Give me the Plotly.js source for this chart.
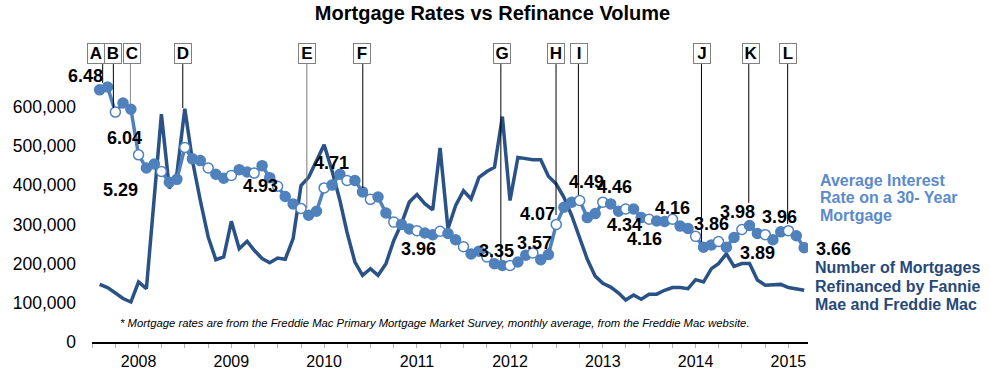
<!DOCTYPE html>
<html>
<head>
<meta charset="utf-8">
<script src="https://cdn.plot.ly/plotly-3.0.1.min.js"></script>
<style>html,body{margin:0;padding:0;background:#fff;}#chart{width:989px;height:369px;}</style>
</head>
<body>
<div id="chart"></div>
<script>
// ---- DATA ----
const months = [
 '2008-07','2008-08','2008-09','2008-10','2008-11','2008-12',
 '2009-01','2009-02','2009-03','2009-04','2009-05','2009-06','2009-07','2009-08','2009-09','2009-10','2009-11','2009-12',
 '2010-01','2010-02','2010-03','2010-04','2010-05','2010-06','2010-07','2010-08','2010-09','2010-10','2010-11','2010-12',
 '2011-01','2011-02','2011-03','2011-04','2011-05','2011-06','2011-07','2011-08','2011-09','2011-10','2011-11','2011-12',
 '2012-01','2012-02','2012-03','2012-04','2012-05','2012-06','2012-07','2012-08','2012-09','2012-10','2012-11','2012-12',
 '2013-01','2013-02','2013-03','2013-04','2013-05','2013-06','2013-07','2013-08','2013-09','2013-10','2013-11','2013-12',
 '2014-01','2014-02','2014-03','2014-04','2014-05','2014-06','2014-07','2014-08','2014-09','2014-10','2014-11','2014-12',
 '2015-01','2015-02','2015-03','2015-04','2015-05','2015-06','2015-07','2015-08','2015-09','2015-10','2015-11','2015-12',
 '2016-01','2016-02'];

const rates = [
 6.43,6.48,6.04,6.20,6.09,5.29,
 5.06,5.13,5.00,4.81,4.86,5.42,5.22,5.19,5.06,4.95,4.88,4.93,
 5.03,4.99,4.97,5.10,4.89,4.74,4.56,4.43,4.35,4.23,4.30,4.71,
 4.76,4.95,4.84,4.84,4.64,4.51,4.55,4.27,4.11,4.07,3.99,3.96,
 3.92,3.89,3.95,3.91,3.80,3.68,3.55,3.60,3.50,3.38,3.35,3.35,
 3.41,3.53,3.57,3.45,3.54,4.07,4.37,4.46,4.49,4.19,4.26,4.46,
 4.43,4.30,4.34,4.34,4.19,4.16,4.13,4.12,4.16,4.04,4.00,3.86,
 3.67,3.71,3.77,3.67,3.84,3.98,4.05,3.91,3.89,3.80,3.94,3.96,
 3.87,3.66];

const refinances = [
 147000,139000,125000,111000,102000,153000,
 136000,370000,581000,392000,430000,595000,463000,361000,268000,210000,217000,308000,
 238000,257000,234000,213000,202000,214000,211000,264000,399000,420000,463000,503000,
 437000,361000,280000,204000,170000,187000,170000,200000,259000,302000,357000,376000,
 353000,337000,495000,289000,348000,386000,365000,420000,435000,446000,575000,361000,
 471000,467000,465000,465000,423000,403000,369000,322000,265000,211000,168000,150000,
 140000,125000,107000,120000,109000,122000,122000,132000,139000,139000,136000,159000,
 153000,187000,200000,225000,193000,200000,200000,158000,145000,145000,147000,139000,
 135000,132000];

const yTicks = [0,100000,200000,300000,400000,500000,600000];
const yearTickDates = ['2008-12-01','2009-12-01','2010-12-01','2011-12-01','2012-12-01','2013-12-01','2014-12-01','2015-12-01'];
const yearTickText = ['2008','2009','2010','2011','2012','2013','2014','2015'];

// labelled rate points (month of the point)
const labelMonths = ['2008-08','2008-09','2008-12','2009-12','2010-12','2011-12','2012-12','2013-03','2013-06','2013-09','2013-12','2014-03','2014-09','2014-06','2014-12','2015-06','2015-09','2015-12','2016-02'];

// event markers
const eventLabels = ['A','B','C','D','E','F','G','H','I','J','K','L'];
const eventDates = ['2008-07-13','2008-08-24','2008-10-30','2009-05-24','2010-09-24','2011-05-02','2012-10-26','2013-05-31','2013-08-27','2014-12-24','2015-06-28','2015-11-28'];
const eventLineEnds = [661000,597000,605000,597000,342000,393000,209000,324000,375000,255000,355000,301000];

const title = 'Mortgage Rates vs Refinance Volume';
const rateLegend = ['Average Interest','Rate on a 30- Year','Mortgage'];
const refiLegend = ['Number of Mortgages','Refinanced by Fannie','Mae and Freddie Mac'];
const footnote = '* Mortgage rates are from the Freddie Mac Primary Mortgage Market Survey, monthly average, from the Freddie Mac website.';

// ---- STYLE / POSITION CONFIG ----
const FONT = 'Liberation Sans, Arial, Helvetica, sans-serif';
const RATE_COLOR = '#4F81BD';
const REFI_COLOR = '#2A5286';
const labelShifts = [[-22,11.5],[8.7,-26],[-18,-35],[28.7,-10.8],[7.2,24.6],[1.6,-18],[-14,14.4],[1.6,10],[-18.8,10.2],[6.4,18.8],[12,14.7],[-1.3,-16],[0,11],[-4.5,-19.5],[15.7,12.2],[-4,17.8],[-7.3,-18.6],[-9,14],[29.7,-1]];
const boxShifts = [-6.5,0,1.8,0.4,0.2,-1,1,0,0.7,0.7,2.3,0.3];
const lineColors = ['#000','#000','#888','#000','#777','#000','#000','#000','#000','#000','#000','#000'];

const H = 369, TOP = 60, BOTTOM = 342, LEFT = 92, RIGHT = 808;
const py = p => (BOTTOM - p) / (BOTTOM - TOP); // pixel y -> paper y
const px = p => (p - LEFT) / (RIGHT - LEFT);   // pixel x -> paper x

const markerFill = months.map(m => (parseInt(m.slice(5),10) % 3 === 0) ? '#ffffff' : RATE_COLOR);

const traces = [
  {x: months, y: refinances, type: 'scatter', mode: 'lines', yaxis: 'y',
   line: {color: REFI_COLOR, width: 3.5}, hoverinfo: 'skip', showlegend: false},
  {x: months, y: rates, type: 'scatter', mode: 'lines+markers', yaxis: 'y2',
   line: {color: RATE_COLOR, width: 3.5},
   marker: {size: 10, color: markerFill, line: {color: RATE_COLOR, width: 1.5}},
   hoverinfo: 'skip', showlegend: false}
];

const annotations = [];
labelMonths.forEach((m, i) => {
  const idx = months.indexOf(m);
  annotations.push({x: m, y: rates[idx], xref: 'x', yref: 'y2', text: rates[idx].toFixed(2),
    showarrow: false, xanchor: 'center', yanchor: 'middle',
    xshift: labelShifts[i][0], yshift: labelShifts[i][1],
    font: {family: FONT, size: 18, color: '#000', weight: 'bold'}});
});
eventLabels.forEach((l, i) => {
  annotations.push({x: eventDates[i], y: py(53.5), xref: 'x', yref: 'paper', text: '<b>' + l + '</b>',
    showarrow: false, xanchor: 'center', yanchor: 'middle', xshift: boxShifts[i],
    bgcolor: '#fff', bordercolor: '#808080', borderwidth: 1, borderpad: 0, width: 16, height: 19,
    font: {family: FONT, size: 17, color: '#000'}});
});
const legY1 = [180, 197.5, 215.8];
rateLegend.forEach((t, i) => annotations.push({x: px(818), y: py(legY1[i]), xref: 'paper', yref: 'paper', text: '<b>' + t + '</b>',
  showarrow: false, xanchor: 'left', yanchor: 'middle', font: {family: FONT, size: 16, color: '#5B8ACB'}}));
const legY2 = [267.7, 286, 304.3];
refiLegend.forEach((t, i) => annotations.push({x: px(812.5), y: py(legY2[i]), xref: 'paper', yref: 'paper', text: '<b>' + t + '</b>',
  showarrow: false, xanchor: 'left', yanchor: 'middle', font: {family: FONT, size: 16, color: '#27497A'}}));
annotations.push({x: px(118), y: py(323.3), xref: 'paper', yref: 'paper', text: '<i>' + footnote + '</i>',
  showarrow: false, xanchor: 'left', yanchor: 'middle', font: {family: FONT, size: 11.3, color: '#000'}});

const shapes = eventDates.map((d, i) => ({type: 'line', xref: 'x', yref: 'y', x0: d, x1: d,
  y0: eventLineEnds[i], y1: 709000, line: {color: lineColors[i], width: 1}, layer: 'above'}));

const layout = {
  width: 989, height: 369,
  margin: {l: LEFT, r: 989 - RIGHT, t: TOP, b: H - BOTTOM, autoexpand: false},
  paper_bgcolor: '#fff', plot_bgcolor: '#fff',
  showlegend: false,
  title: {text: '<b>' + title + '</b>', xref: 'container', yref: 'container', x: 492.5 / 989, y: 1 - 12.5 / H,
    xanchor: 'center', yanchor: 'middle', font: {family: FONT, size: 20, color: '#000'}},
  xaxis: {type: 'date', range: ['2008-06-01', '2016-02-16'], showgrid: false, zeroline: false,
    showline: true, linecolor: '#000', linewidth: 1.5,
    tickmode: 'array', tickvals: yearTickDates, ticktext: yearTickText,
    ticks: 'outside', ticklen: 4, tickcolor: '#b0b0b0', tickwidth: 1,
    minor: {tickmode: 'linear', tick0: '2008-06-01', dtick: 'M3', ticks: 'outside', ticklen: 4, tickcolor: '#b0b0b0', tickwidth: 1, showgrid: false},
    tickfont: {family: FONT, size: 16, color: '#000'}},
  yaxis: {range: [0, 719400], showgrid: false, zeroline: false, showline: false,
    tickmode: 'array', tickvals: yTicks, tickformat: ',', ticks: '', ticklabelstandoff: 15,
    tickfont: {family: FONT, size: 17.5, color: '#000'}},
  yaxis2: {range: [2.007, 6.954], overlaying: 'y', side: 'right', visible: false, showgrid: false, zeroline: false},
  annotations: annotations,
  shapes: shapes
};

Plotly.newPlot('chart', traces, layout, {staticPlot: true, displayModeBar: false});
</script>
</body>
</html>
